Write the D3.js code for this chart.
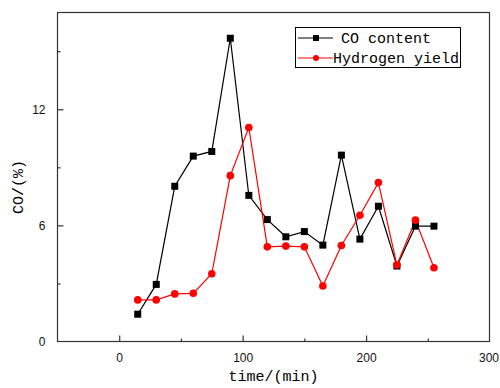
<!DOCTYPE html>
<html>
<head>
<meta charset="utf-8">
<script src="https://cdn.jsdelivr.net/npm/d3@7"></script>
<style>
  body { margin: 0; background: #fff; }
  svg { display: block; }
</style>
</head>
<body>
<svg id="chart" width="500" height="388"></svg>
<script>
// data
var times = [15, 30, 45, 60, 75, 90, 105, 120, 135, 150, 165, 180, 195, 210, 225, 240, 255];
var coContent = [1.41, 2.95, 8.02, 9.58, 9.82, 15.67, 7.55, 6.30, 5.41, 5.68, 4.98, 9.63, 5.29, 6.99, 3.90, 5.96, 5.96];
var hydrogenYield = [2.15, 2.15, 2.46, 2.49, 3.50, 8.57, 11.06, 4.89, 4.93, 4.89, 2.87, 4.96, 6.52, 8.21, 3.95, 6.27, 3.81];
var xTicks = [0, 100, 200, 300];
var yTicks = [0, 6, 12];
var seriesNames = ["CO content", "Hydrogen yield"];

(function(){
  var svg = d3.select('#chart');
  var box = {left: 57.5, right: 489.5, top: 12.5, bottom: 341.5};

  var x = d3.scaleLinear().domain([-50, 300]).range([box.left, box.right]);
  var y = d3.scaleLinear().domain([0, 17]).range([box.bottom, box.top]);

  var axisCol = '#333';

  // frame
  svg.append('rect')
    .attr('x', box.left).attr('y', box.top)
    .attr('width', box.right - box.left).attr('height', box.bottom - box.top)
    .attr('fill', 'none').attr('stroke', axisCol).attr('stroke-width', 1.2);

  // x axis, ticks inside
  var xAxis = svg.append('g')
    .attr('transform', 'translate(0,' + box.bottom + ')')
    .call(d3.axisBottom(x).tickValues(xTicks).tickSize(-6).tickPadding(12).tickFormat(d3.format('d')));
  var xMinor = svg.append('g')
    .attr('transform', 'translate(0,' + box.bottom + ')')
    .call(d3.axisBottom(x).tickValues([-50 + 100, 150, 250]).tickSize(-3).tickFormat(''));

  var yAxis = svg.append('g')
    .attr('transform', 'translate(' + box.left + ',0)')
    .call(d3.axisLeft(y).tickValues(yTicks).tickSize(-6).tickPadding(12).tickFormat(d3.format('d')));
  var yMinor = svg.append('g')
    .attr('transform', 'translate(' + box.left + ',0)')
    .call(d3.axisLeft(y).tickValues([3, 9, 15]).tickSize(-3).tickFormat(''));

  [xAxis, xMinor, yAxis, yMinor].forEach(function(g){
    g.select('.domain').remove();
    g.selectAll('line').attr('stroke', axisCol).attr('stroke-width', 1.2);
    g.selectAll('text')
      .attr('fill', '#111')
      .style('font-family', '"Liberation Sans", Arial, sans-serif')
      .style('font-size', '12px');
  });
  // the tick at 300 sits on the frame, drop its line
  xAxis.selectAll('.tick').filter(function(d){ return d === 300; }).select('line').remove();
  yAxis.selectAll('.tick').filter(function(d){ return d === 0; }).select('line').remove();
  xAxis.selectAll('.tick').filter(function(d){ return d === 300; }).select('text').attr('dx', -1);

  // axis titles
  var mono = '"Liberation Mono", "DejaVu Sans Mono", monospace';
  svg.append('text')
    .attr('x', (box.left + box.right) / 2).attr('y', 381)
    .attr('text-anchor', 'middle')
    .style('font-family', mono).style('font-size', '15px')
    .text('time/(min)');
  svg.append('text')
    .attr('transform', 'translate(23,187) rotate(-90)')
    .attr('text-anchor', 'middle')
    .style('font-family', mono).style('font-size', '15px')
    .text('CO/(%)');

  var line = d3.line()
    .x(function(d){ return x(d[0]); })
    .y(function(d){ return y(d[1]); });

  var coPts = times.map(function(t, i){ return [t, coContent[i]]; });
  var h2Pts = times.map(function(t, i){ return [t, hydrogenYield[i]]; });

  svg.append('path').datum(coPts)
    .attr('d', line).attr('fill', 'none').attr('stroke', '#000').attr('stroke-width', 1.2);
  svg.append('path').datum(h2Pts)
    .attr('d', line).attr('fill', 'none').attr('stroke', '#ff0000').attr('stroke-width', 1.2);

  svg.append('g').selectAll('rect').data(coPts).enter()
    .append('rect')
    .attr('x', function(d){ return x(d[0]) - 3.5; })
    .attr('y', function(d){ return y(d[1]) - 3.5; })
    .attr('width', 7).attr('height', 7)
    .attr('fill', '#000');

  svg.append('g').selectAll('circle').data(h2Pts).enter()
    .append('circle')
    .attr('cx', function(d){ return x(d[0]); })
    .attr('cy', function(d){ return y(d[1]); })
    .attr('r', 3.8)
    .attr('fill', '#ff0000');

  // legend
  var leg = svg.append('g');
  leg.append('rect')
    .attr('x', 295.5).attr('y', 27.5).attr('width', 165).attr('height', 40)
    .attr('fill', '#fff').attr('stroke', '#000').attr('stroke-width', 1);
  var legY = [38, 58];
  var legCol = ['#000', '#ff0000'];
  var textX = [341, 333];
  seriesNames.forEach(function(name, i){
    leg.append('line')
      .attr('x1', 298).attr('x2', 333).attr('y1', legY[i]).attr('y2', legY[i])
      .attr('stroke', legCol[i]).attr('stroke-width', 1.2);
    if (i === 0) {
      leg.append('rect').attr('x', 313).attr('y', legY[i] - 3).attr('width', 6).attr('height', 6).attr('fill', '#000');
    } else {
      leg.append('circle').attr('cx', 316).attr('cy', legY[i]).attr('r', 3).attr('fill', '#ff0000');
    }
    leg.append('text')
      .attr('x', textX[i]).attr('y', legY[i] + 5)
      .style('font-family', mono).style('font-size', '15px')
      .text(name);
  });
})();
</script>
</body>
</html>
